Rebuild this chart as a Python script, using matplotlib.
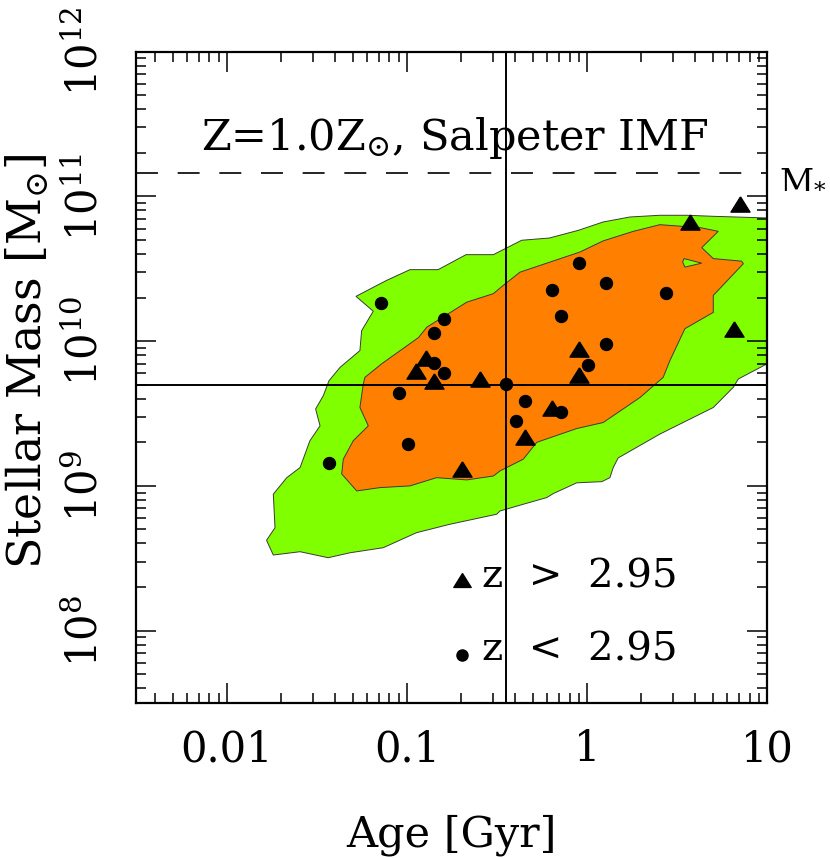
import matplotlib
matplotlib.use('Agg')
import matplotlib.pyplot as plt

plt.rcParams['font.family'] = ['DejaVu Serif']
plt.rcParams['mathtext.fontset'] = 'dejavuserif'
plt.rcParams['lines.scale_dashes'] = False

# ---- data -------------------------------------------------------------
# outer (green) confidence region outline: age [Gyr], mass [Msun]
green_age = [0.0521, 0.0771, 0.104, 0.149, 0.213, 0.302, 0.434, 0.618, 0.895, 1.23,
             1.73, 2.54, 3.58, 5.03, 10.0, 10.0, 6.93, 6.50, 5.03, 3.58, 2.54, 1.49,
             1.40, 1.34, 1.21, 0.877, 0.650, 0.597, 0.443, 0.329, 0.315, 0.173, 0.113,
             0.0738, 0.0482, 0.0365, 0.0255, 0.0181, 0.0166, 0.0185, 0.0181, 0.0215,
             0.0255, 0.0289, 0.0329, 0.0311, 0.0343, 0.0369, 0.0425, 0.0548, 0.0560, 0.0650]
green_mass = [2.04e10, 2.63e10, 3.12e10, 3.12e10, 3.96e10, 3.96e10, 4.98e10, 5.16e10,
              5.83e10, 6.66e10, 7.21e10, 7.41e10, 7.41e10, 7.29e10, 7.10e10, 6.97e9,
              5.48e9, 4.80e9, 3.48e9, 2.82e9, 2.28e9, 1.56e9, 1.34e9, 1.14e9, 1.07e9,
              1.05e9, 8.85e8, 8.30e8, 7.47e8, 6.71e8, 6.37e8, 5.43e8, 4.75e8, 3.74e8,
              3.45e8, 3.19e8, 3.51e8, 3.33e8, 4.21e8, 5.14e8, 8.77e8, 1.14e9, 1.34e9,
              2.05e9, 2.60e9, 3.40e9, 4.20e9, 5.33e9, 6.59e9, 8.61e9, 1.18e10, 1.61e10]

# inner (orange) confidence region outline
orange_age = [0.0572, 0.0584, 0.0723, 0.116, 0.129, 0.215, 0.302, 0.343, 0.425, 0.914,
              1.23, 1.81, 2.54, 4.25, 5.36, 4.34, 5.03, 7.23, 7.39, 5.03, 5.03, 3.50,
              2.89, 2.65, 1.97, 1.23, 0.877, 0.526, 0.443, 0.329, 0.302, 0.215, 0.146,
              0.104, 0.0708, 0.0526, 0.0434, 0.0443, 0.0503, 0.0610, 0.0548]
orange_mass = [5.06e9, 5.62e9, 6.97e9, 1.06e10, 1.25e10, 1.86e10, 2.13e10, 2.43e10,
               3.00e10, 4.13e10, 4.93e10, 5.74e10, 6.38e10, 6.09e10, 5.74e10, 4.43e10,
               3.72e10, 3.57e10, 3.43e10, 2.07e10, 1.58e10, 1.22e10, 7.35e9, 5.62e9,
               4.08e9, 2.74e9, 2.49e9, 2.00e9, 1.53e9, 1.27e9, 1.17e9, 1.10e9, 1.14e9,
               1.00e9, 9.73e8, 9.23e8, 1.21e9, 1.53e9, 2.05e9, 2.60e9, 3.48e9]

# small green island inside the orange region
hole_age = [3.46, 4.34, 3.50, 3.40]
hole_mass = [3.72e10, 3.46e10, 3.25e10, 3.52e10]

# galaxies with z < 2.95 (circles)
circ_age = [0.0714, 0.160, 0.142, 0.142, 0.160, 0.090, 0.356, 0.451, 0.402, 0.101,
            0.0367, 0.90, 0.64, 1.275, 2.76, 0.717, 1.275, 1.017, 0.717]
circ_mass = [1.83e10, 1.42e10, 1.13e10, 7.1e9, 6.07e9, 4.38e9, 5.08e9, 3.84e9, 2.79e9,
             1.95e9, 1.44e9, 3.48e10, 2.27e10, 2.52e10, 2.16e10, 1.49e10, 9.57e9,
             6.85e9, 3.25e9]

# galaxies with z > 2.95 (triangles)
tri_age = [0.127, 0.113, 0.142, 0.255, 0.451, 0.202, 7.08, 3.75, 6.53, 0.90, 0.90, 0.637]
tri_mass = [7.66e9, 6.25e9, 5.33e9, 5.48e9, 2.16e9, 1.31e9, 8.93e10, 6.67e10, 1.22e10,
            8.85e9, 5.87e9, 3.43e9]

age_ref = 0.355        # vertical line
mass_ref = 5.0e9       # horizontal line
mass_star = 1.46e11    # dashed M* line

xticks = [0.01, 0.1, 1, 10]
xticklabels = ['0.01', '0.1', '1', '10']
yticks = [1e8, 1e9, 1e10, 1e11, 1e12]
yticklabels = [r'$10^{8}$', r'$10^{9}$', r'$10^{10}$', r'$10^{11}$', r'$10^{12}$']

# ---- figure -----------------------------------------------------------
fig = plt.figure(figsize=(8.3, 8.58), dpi=100)
ax = fig.add_axes([136 / 830, 1 - 703 / 858, (767 - 136) / 830, (703 - 51.7) / 858])
ax.set_xscale('log')
ax.set_yscale('log')
ax.set_xlim(10 ** -2.505, 10)
ax.set_ylim(10 ** 7.5, 1e12)

green = '#80ff00'
orange = '#ff8000'
edge = '#3a3a3a'
ax.fill(green_age, green_mass, facecolor=green, edgecolor=edge, linewidth=0.7, zorder=1)
ax.fill(orange_age, orange_mass, facecolor=orange, edgecolor=edge, linewidth=0.7, zorder=2)
ax.fill(hole_age, hole_mass, facecolor=green, edgecolor=edge, linewidth=0.7, zorder=3)

ax.axvline(age_ref, color='black', lw=1.4, zorder=4)
ax.axhline(mass_ref, color='black', lw=1.4, zorder=4)
ax.axhline(mass_star, color='black', lw=1.2, ls=(0, (15.8, 14.2)), zorder=4)

tri_marker = [(0, 0.8), (-1, -0.8), (1, -0.8), (0, 0.8)]
ax.plot(circ_age, circ_mass, 'o', color='black', ms=8.6, zorder=5, clip_on=False)
ax.plot(tri_age, tri_mass, ls='none', marker=tri_marker, color='black', ms=13.7,
        zorder=5, clip_on=False)

# legend
ax.plot([0.5166], [0.1889], ls='none', marker=tri_marker, color='black', ms=12.5,
        transform=ax.transAxes, clip_on=False)
ax.plot([0.5166], [0.0737], 'o', color='black', ms=8, transform=ax.transAxes, clip_on=False)
ax.text(0.548, 0.178, 'z  >  2.95', transform=ax.transAxes, fontsize=29, va='baseline')
ax.text(0.548, 0.066, 'z  <  2.95', transform=ax.transAxes, fontsize=29, va='baseline')

ax.text(0.5055, 0.849, r'Z=1.0Z$_{\odot}$, Salpeter IMF', transform=ax.transAxes,
        fontsize=31, ha='center', va='baseline')
fig.text(779 / 830, 1 - 188 / 858, r'M$_{*}$', fontsize=24, ha='left', va='baseline')

# ticks
ax.set_xticks(xticks)
ax.set_xticklabels(xticklabels, fontsize=30)
ax.set_yticks(yticks)
ax.set_yticklabels(yticklabels, fontsize=30, rotation=90, va='center')
ax.tick_params(which='both', direction='in', top=True, right=True, width=1.1, colors='black')
ax.tick_params(which='major', length=14.4)
ax.tick_params(which='minor', length=7.2)
ax.tick_params(axis='x', which='major', pad=18)
ax.tick_params(axis='y', which='major', pad=21)
for s in ax.spines.values():
    s.set_linewidth(1.6)

ax.set_xlabel('Age [Gyr]', fontsize=31, va='baseline')
ax.xaxis.set_label_coords(0.5, -0.221)
ax.set_ylabel(r'Stellar Mass [M$_{\odot}$]', fontsize=33, va='center')
ax.yaxis.set_label_coords(-0.171, 0.525)

fig.savefig('out.png', dpi=100)
